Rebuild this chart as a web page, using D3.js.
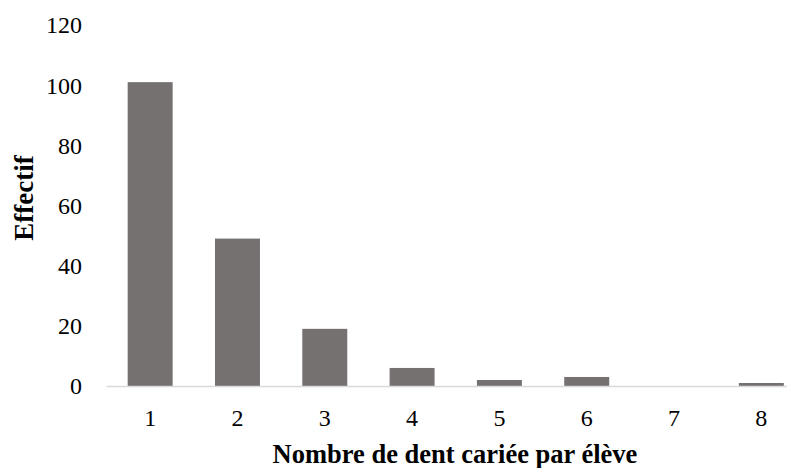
<!DOCTYPE html>
<html>
<head>
<meta charset="utf-8">
<script src="https://cdn.jsdelivr.net/npm/d3@7"></script>
<style>
  body { margin: 0; background: #fff; }
  text { font-family: "Liberation Serif", "Times New Roman", serif; }
</style>
</head>
<body>
<div id="vis1"></div>
<script>
// chart data
let categories = ['1', '2', '3', '4', '5', '6', '7', '8'];
let counts = [101, 49, 19, 6, 2, 3, 0, 1];
let yTicks = [0, 20, 40, 60, 80, 100, 120];

let width = 787, height = 468;

let svg = d3.select('#vis1')
  .append('svg')
  .attr('width', width)
  .attr('height', height);

let x = d3.scaleBand()
  .domain(categories)
  .range([106.5, 805])
  .paddingInner(0.485)
  .paddingOuter(0.2425);

let y = d3.scaleLinear()
  .domain([0, 120])
  .range([386, 25]);

// y tick labels (no axis line in the original)
svg.selectAll('.ytick')
  .data(yTicks)
  .enter().append('text')
  .attr('class', 'ytick')
  .attr('x', 82)
  .attr('y', d => y(d))
  .attr('dy', '0.35em')
  .attr('text-anchor', 'end')
  .attr('font-size', 24)
  .attr('fill', '#000')
  .text(d => d);

// bars
svg.selectAll('.bar')
  .data(counts)
  .enter().append('rect')
  .attr('class', 'bar')
  .attr('x', (d, i) => x(categories[i]))
  .attr('y', d => y(d))
  .attr('width', x.bandwidth())
  .attr('height', d => y(0) - y(d))
  .attr('fill', '#767171');

// x axis baseline
svg.append('line')
  .attr('x1', 106.5)
  .attr('x2', 787)
  .attr('y1', y(0) + 0.5)
  .attr('y2', y(0) + 0.5)
  .attr('stroke', '#d9d9d9')
  .attr('stroke-width', 1.5);

// x tick labels
svg.selectAll('.xtick')
  .data(categories)
  .enter().append('text')
  .attr('class', 'xtick')
  .attr('x', d => x(d) + x.bandwidth() / 2)
  .attr('y', 418)
  .attr('dy', '0.35em')
  .attr('text-anchor', 'middle')
  .attr('font-size', 24)
  .attr('fill', '#000')
  .text(d => d);

// axis titles
svg.append('text')
  .attr('x', 455)
  .attr('y', 463)
  .attr('text-anchor', 'middle')
  .attr('font-size', 26.5)
  .attr('font-weight', 'bold')
  .text('Nombre de dent cariée par élève');

svg.append('text')
  .attr('transform', 'translate(33,198) rotate(-90)')
  .attr('text-anchor', 'middle')
  .attr('font-size', 27)
  .attr('font-weight', 'bold')
  .text('Effectif');
</script>
</body>
</html>
